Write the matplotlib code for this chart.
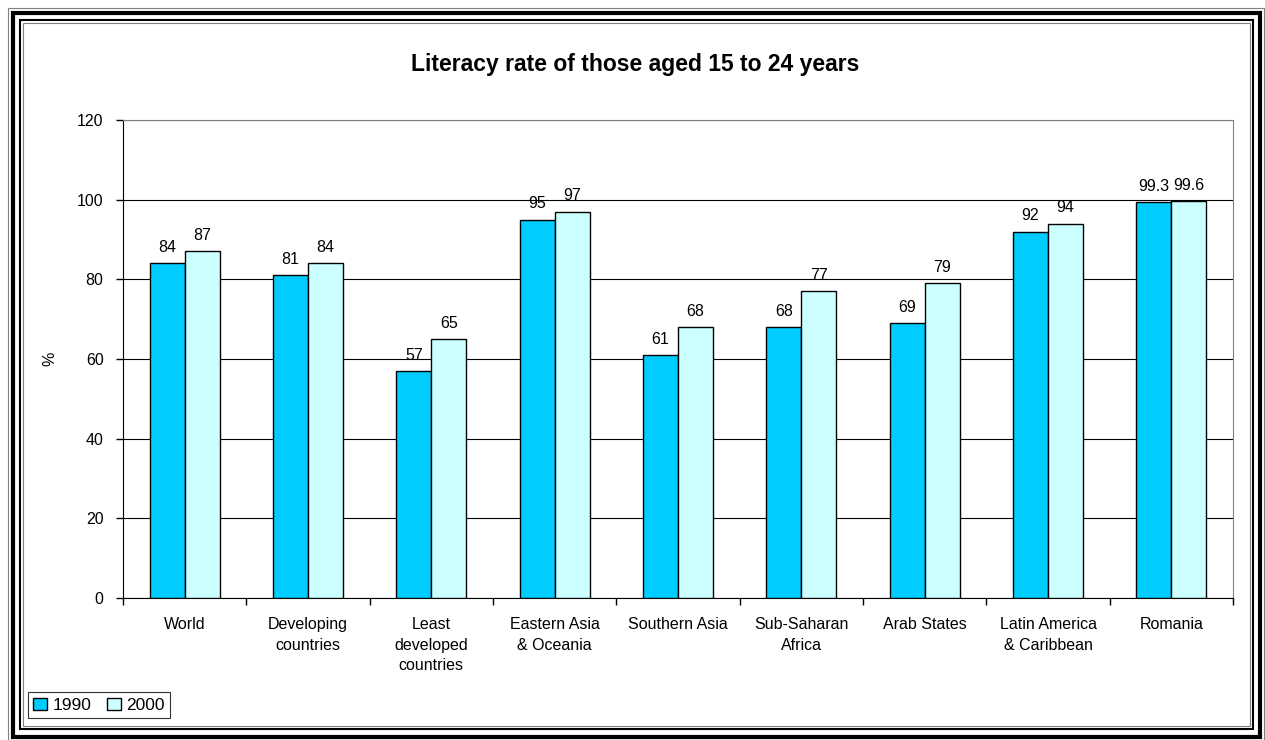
import matplotlib.pyplot as plt
import numpy as np
from matplotlib.patches import Rectangle

plt.rcParams['font.family'] = ['Liberation Sans', 'DejaVu Sans']

regions = ["World", "Developing\ncountries", "Least\ndeveloped\ncountries",
           "Eastern Asia\n& Oceania", "Southern Asia", "Sub-Saharan\nAfrica",
           "Arab States", "Latin America\n& Caribbean", "Romania"]
rate_1990 = [84, 81, 57, 95, 61, 68, 69, 92, 99.3]
rate_2000 = [87, 84, 65, 97, 68, 77, 79, 94, 99.6]
labels_1990 = ["84", "81", "57", "95", "61", "68", "69", "92", "99.3"]
labels_2000 = ["87", "84", "65", "97", "68", "77", "79", "94", "99.6"]

W, H = 1265, 740
fig = plt.figure(figsize=(12.65, 7.4), dpi=100)
ax = fig.add_axes([123/W, 1-598/H, (1233-123)/W, (598-120)/H])

x = np.arange(len(regions))
w = 0.285
b1 = ax.bar(x - w/2, rate_1990, w, color="#00CCFF", edgecolor="black", linewidth=1, label="1990", zorder=3)
b2 = ax.bar(x + w/2, rate_2000, w, color="#CCFFFF", edgecolor="black", linewidth=1, label="2000", zorder=3)

for bars, labs in ((b1, labels_1990), (b2, labels_2000)):
    for r, t in zip(bars, labs):
        ax.annotate(t, (r.get_x() + r.get_width()/2, r.get_height()), xytext=(0, 6),
                    textcoords="offset points", ha="center", va="bottom", fontsize=11.5)

ax.set_xlim(-0.5, len(regions) - 0.5)
ax.set_ylim(0, 120)
ax.set_yticks(range(0, 121, 20))
ax.tick_params(axis="y", labelsize=11.5, length=5, width=1, direction="out", pad=9)
ax.set_xticks(x)
ax.set_xticklabels(regions, fontsize=11.5, linespacing=1.45)
ax.tick_params(axis="x", length=0, pad=14)
ax.set_xticks(np.arange(-0.5, len(regions), 1), minor=True)
ax.tick_params(axis="x", which="minor", length=5, width=1, direction="out")
ax.yaxis.grid(True, color="black", linewidth=0.8, zorder=0)
ax.set_axisbelow(True)
for s in ("top", "right"):
    ax.spines[s].set_color("#808080")
ax.set_ylabel("%", fontsize=11.5, labelpad=14)

fig.text(635/W, 1-64/H, "Literacy rate of those aged 15 to 24 years", ha="center", va="center",
         fontsize=16.5, fontweight="bold")

leg = fig.legend(loc="lower left", bbox_to_anchor=(28/W, 1-718/H), ncol=2, fontsize=12.5,
                 frameon=True, fancybox=False, edgecolor="black", handlelength=0.8, handleheight=0.7,
                 handletextpad=0.3, columnspacing=0.9, borderpad=0.3, borderaxespad=0)
leg.get_frame().set_linewidth(0.8)

# double frame around the figure
def frame(x0, y0, x1, y1, lw, color="black"):
    fig.patches.append(Rectangle((x0/W, 1-y1/H), (x1-x0)/W, (y1-y0)/H, transform=fig.transFigure,
                                 fill=False, edgecolor=color, linewidth=lw))

frame(8, 8, 1264, 740, 0.8, "#808080")
frame(13, 13, 1260, 737, 3)
frame(20, 20, 1253, 729, 1.5)
frame(23, 23, 1250, 726, 0.8, "#808080")

plt.savefig("out.png", dpi=100)
